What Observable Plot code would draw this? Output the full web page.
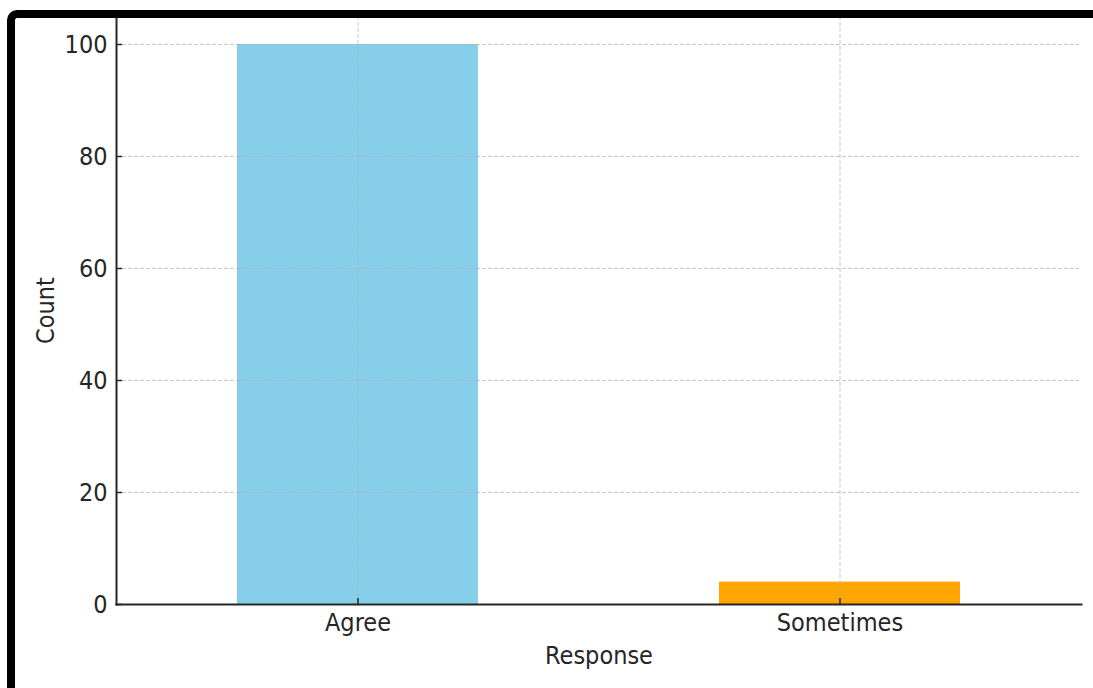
<!DOCTYPE html>
<html>
<head>
<meta charset="utf-8">
<script src="https://cdn.jsdelivr.net/npm/d3@7"></script>
<script src="https://cdn.jsdelivr.net/npm/@observablehq/plot@0.6"></script>
<style>
  html, body { margin: 0; padding: 0; background: #fff; }
  #wrap { position: relative; width: 1093px; height: 688px; overflow: hidden; }
  #chart { position: absolute; left: 0; top: 0; }
  #border {
    position: absolute; left: 7px; top: 10px; width: 1200px; height: 800px;
    border-left: 8px solid #000; border-top: 8px solid #000;
    border-top-left-radius: 10px; box-sizing: border-box; pointer-events: none;
  }
</style>
</head>
<body>
<div id="wrap"><div id="chart"></div><div id="border"></div></div>
<script>
const categories = ["Agree", "Sometimes"];
const counts = [100, 4];
const colors = ["#87CEEB", "#FFA500"];
const yTicks = [0, 20, 40, 60, 80, 100];

const data = categories.map((c, i) => ({response: c, count: counts[i], color: colors[i]}));

const W = 1093, H = 688;
const mL = 116, mT = 16, mR = 12, mB = 84;
const font = "'DejaVu Sans Condensed', 'DejaVu Sans', sans-serif";
const axisColor = "#262626";
const fs = 25;

const chart = Plot.plot({
  width: W,
  height: H,
  marginLeft: mL,
  marginTop: mT,
  marginRight: mR,
  marginBottom: mB,
  style: {fontFamily: font, fontSize: fs + "px", color: axisColor, background: "#fff"},
  x: {domain: categories, paddingInner: 0.5, paddingOuter: 0.25, label: null},
  y: {domain: [0, 105], label: null},
  marks: [
    Plot.barY(data, {x: "response", y: "count", fill: "color"}),
    Plot.gridY(yTicks.filter(d => d > 0), {stroke: "#b0b0b0", strokeOpacity: 0.7, strokeWidth: 1, strokeDasharray: "4,2", insetRight: 2}),
    Plot.gridX(categories, {stroke: "#b0b0b0", strokeOpacity: 0.7, strokeWidth: 1, strokeDasharray: "4,2"}),
    Plot.tickY(yTicks, {y: d => d, stroke: axisColor, strokeWidth: 1.5, insetRight: W - mL - mR - 6}),
    Plot.tickX(categories, {x: d => d, stroke: axisColor, strokeWidth: 1.5, insetTop: H - mT - mB - 6}),
    Plot.frame({anchor: "left", stroke: axisColor, strokeWidth: 2}),
    Plot.frame({anchor: "bottom", stroke: axisColor, strokeWidth: 2}),
    Plot.axisY(yTicks, {tickSize: 0, tickPadding: 9, fontSize: fs, label: null}),
    Plot.axisX(categories, {tickSize: 0, tickPadding: 9, fontSize: fs, label: null}),
    Plot.text(["Count"], {frameAnchor: "left", textAnchor: "middle", dx: -(mL - 45), rotate: -90, fontSize: fs, fill: axisColor}),
    Plot.text(["Response"], {frameAnchor: "bottom", dy: 59, fontSize: fs, fill: axisColor})
  ]
});

document.getElementById("chart").appendChild(chart);
</script>
</body>
</html>
